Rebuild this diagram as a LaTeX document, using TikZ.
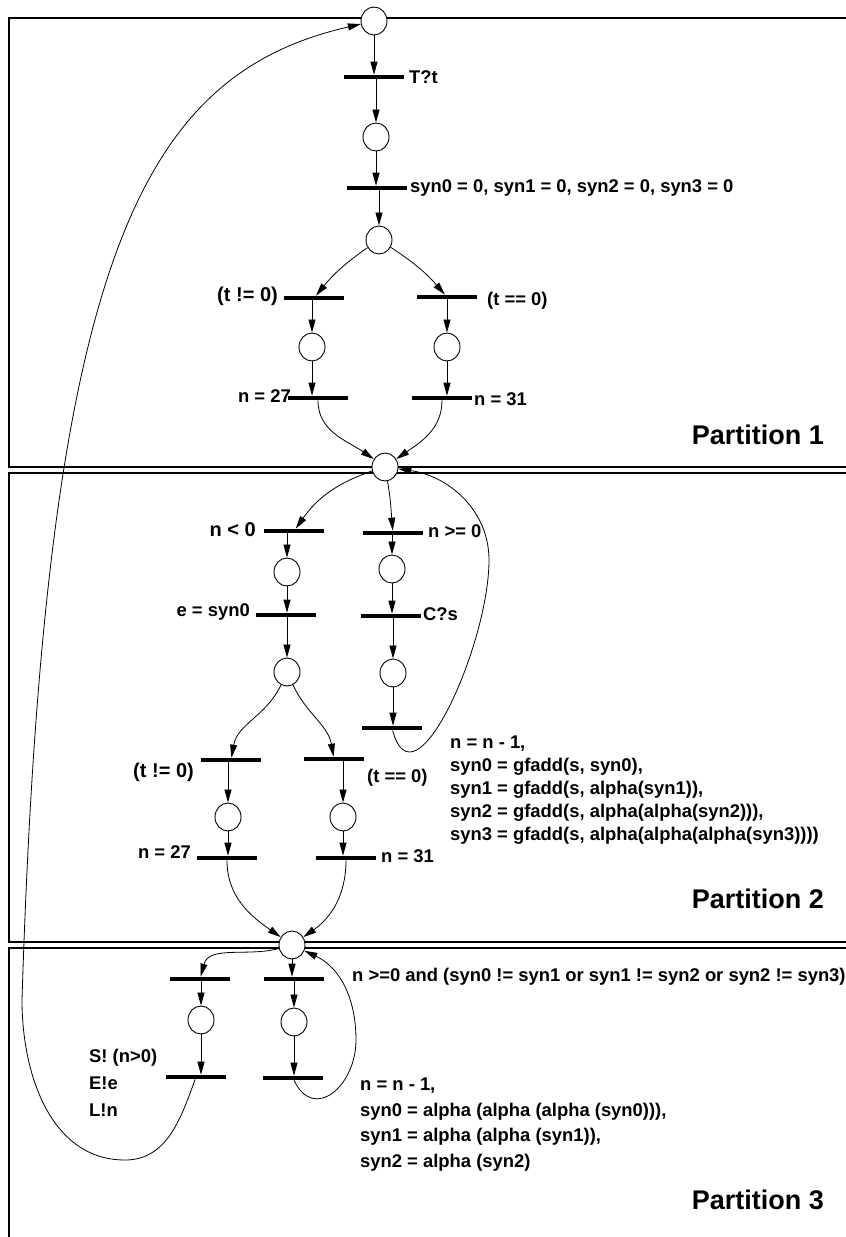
\documentclass[tikz,border=0pt]{standalone}
\usepackage{fontspec}
\setmainfont{Liberation Sans}
\usetikzlibrary{arrows.meta, shapes.geometric}
\tikzset{
  place/.style={ellipse, draw, fill=white, line width=0.9pt,
                minimum width=26pt, minimum height=28pt, inner sep=0pt},
  trans/.style={rectangle, fill=black, minimum width=60pt,
                minimum height=4.2pt, inner sep=0pt},
  arc/.style={-{Triangle[length=13pt,width=7pt]}, line width=0.8pt},
  partbox/.style={draw, line width=1.2pt},
  lbl/.style={font=\fontsize{18.4}{23}\selectfont\bfseries, inner sep=0pt},
  biglbl/.style={font=\fontsize{20}{24}\selectfont\bfseries, inner sep=0pt},
  parttitle/.style={font=\fontsize{27}{32}\selectfont\bfseries,
                    anchor=east, inner sep=0pt}
}

\begin{document}
\begin{tikzpicture}[x=1pt,y=1pt]
\useasboundingbox (0,0) rectangle (846,-1237);
\clip (0,0) rectangle (846,-1237);

% ── Partition frames ──────────────────────────────────────────────────────────
\foreach \ytop/\ybot in {18/467, 473/942, 948/1260}
  \draw[partbox] (9,-\ytop) rectangle (880,-\ybot);

% ── Partition 1 ───────────────────────────────────────────────────────────────
\node[place] (p0) at (374,-21) {};
\node[trans] (t1) at (374,-77) {};
\node[place] (p1) at (376,-137) {};
\node[trans] (t2) at (377,-188) {};
\node[place] (p2) at (379,-240) {};
\node[trans] (t3) at (314,-298) {};
\node[trans] (t4) at (447,-297) {};
\node[place] (p3) at (312,-347) {};
\node[place] (p4) at (447,-347) {};
\node[trans] (t5) at (318,-398) {};
\node[trans] (t6) at (442,-398) {};
\node[place] (p5) at (385,-467) {};

\node[lbl, anchor=west] (lT1) at (409,-77) {T?t};
\node[lbl, anchor=west] (lT2) at (410,-188) {syn0 = 0, syn1 = 0, syn2 = 0, syn3 = 0};
\node[biglbl, anchor=east] (lT3) at (278,-296) {(t != 0)};
\node[lbl, anchor=west] (lT4) at (487,-301) {(t == 0)};
\node[lbl, anchor=east] (lT5) at (291,-396) {n = 27};
\node[lbl, anchor=west] (lT6) at (474,-399) {n = 31};
\node[parttitle] (part1) at (824,-435) {Partition 1};

\draw[arc] (p0) -- (p0 |- t1.north);
\draw[arc] (t1.south -| p1) -- (p1);
\draw[arc] (p1) -- (p1 |- t2.north);
\draw[arc] (t2.south -| p2) -- (p2);
\draw[arc] (p2) to[bend right=8] (t3);
\draw[arc] (p2) to[bend left=8] (t4);
\draw[arc] (t3.south -| p3) -- (p3);
\draw[arc] (t4.south -| p4) -- (p4);
\draw[arc] (p3) -- (p3 |- t5.north);
\draw[arc] (p4) -- (p4 |- t6.north);
\draw[arc] (t5) to[out=-90,in=145] (p5);
\draw[arc] (t6) to[out=-90,in=35] (p5);

% ── Partition 2 ───────────────────────────────────────────────────────────────
\node[trans] (t7) at (294,-531) {};
\node[trans] (t8) at (393,-533) {};
\node[place] (p6) at (287,-572) {};
\node[place] (p7) at (392,-569) {};
\node[trans] (t9) at (286,-615) {};
\node[trans] (t10) at (391,-616) {};
\node[place] (p8) at (287,-672) {};
\node[place] (p9) at (393,-673) {};
\node[trans] (t11) at (392,-728) {};
\node[trans] (t12) at (231,-760) {};
\node[trans] (t13) at (334,-759) {};
\node[place] (p10) at (228,-817) {};
\node[place] (p11) at (343,-817) {};
\node[trans] (t14) at (227,-858) {};
\node[trans] (t15) at (346,-858) {};
\node[place] (p12) at (292,-945) {};

\node[biglbl, anchor=east] (lT7) at (256,-530) {n < 0};
\node[lbl, anchor=west] (lT8) at (428,-531) {n >= 0};
\node[lbl, anchor=east] (lT9) at (250,-612) {e = syn0};
\node[lbl, anchor=west] (lT10) at (423,-614) {C?s};
\node[lbl, anchor=north west, align=left] (lT11) at (450,-736)
     {n = n - 1,\\
      syn0 = gfadd(s, syn0),\\
      syn1 = gfadd(s, alpha(syn1)),\\
      syn2 = gfadd(s, alpha(alpha(syn2))),\\
      syn3 = gfadd(s, alpha(alpha(alpha(syn3))))};
\node[biglbl, anchor=east] (lT12) at (194,-772) {(t != 0)};
\node[lbl, anchor=west] (lT13) at (367,-778) {(t == 0)};
\node[lbl, anchor=east] (lT14) at (191,-852) {n = 27};
\node[lbl, anchor=west] (lT15) at (381,-856) {n = 31};
\node[parttitle] (part2) at (824,-899) {Partition 2};

\draw[arc] (p5) to[bend right=18] (t7);
\draw[arc] (p5) to[out=-80,in=95] (t8);
\draw[arc] (t7.south -| p6) -- (p6);
\draw[arc] (t8.south -| p7) -- (p7);
\draw[arc] (p6) -- (p6 |- t9.north);
\draw[arc] (p7) -- (p7 |- t10.north);
\draw[arc] (t9.south -| p8) -- (p8);
\draw[arc] (t10.south -| p9) -- (p9);
\draw[arc] (p9) -- (p9 |- t11.north);
\draw[arc] (p8) to[out=-115,in=80] (t12);
\draw[arc] (p8) to[out=-65,in=100] (t13);
\draw[arc] (t12.south -| p10) -- (p10);
\draw[arc] (t13.south -| p11) -- (p11);
\draw[arc] (p10) -- (p10 |- t14.north);
\draw[arc] (p11) -- (p11 |- t15.north);
\draw[arc] (t14) to[out=-90,in=145] (p12);
\draw[arc] (t15) to[out=-90,in=35] (p12);

% loop back to p5
\coordinate (lr1) at (489,-560);
\draw[arc] (t11) to[out=-75,in=-90,looseness=1.1] (lr1)
                 to[out=90,in=-8] (p5);

% ── Partition 3 ───────────────────────────────────────────────────────────────
\node[trans] (t16) at (200,-979) {};
\node[trans] (t17) at (294,-979) {};
\node[place] (p13) at (201,-1020) {};
\node[place] (p14) at (294,-1022) {};
\node[trans] (t18) at (196,-1077) {};
\node[trans] (t19) at (293,-1078) {};

\node[lbl, anchor=west] (lT16) at (352,-977)
     {n >=0 and (syn0 != syn1 or syn1 != syn2 or syn2 != syn3)};
\node[lbl, anchor=north west, align=left,
      font=\fontsize{18.4}{27}\selectfont\bfseries] (lT18) at (89,-1049)
     {S! (n>0)\\E!e\\L!n};
\node[lbl, anchor=north west, align=left,
      font=\fontsize{18.4}{25.5}\selectfont\bfseries] (lT19) at (360,-1078)
     {n = n - 1,\\
      syn0 = alpha (alpha (alpha (syn0))),\\
      syn1 = alpha (alpha (syn1)),\\
      syn2 = alpha (syn2)};
\node[parttitle] (part3) at (824,-1200) {Partition 3};

\draw[arc] (p12) to[out=195,in=75] (t16);
\draw[arc] (p12) -- (p12 |- t17.north);
\draw[arc] (t16.south -| p13) -- (p13);
\draw[arc] (t17.south -| p14) -- (p14);
\draw[arc] (p13) -- (p13 |- t18.north);
\draw[arc] (p14) -- (p14 |- t19.north);

% loop back to p12
\coordinate (lr2) at (356,-1040);
\draw[arc] (t19) to[out=-65,in=-90,looseness=1.6] (lr2)
                 to[out=90,in=-25] (p12);

% long return to p0
\coordinate (bl1) at (125,-1160);
\coordinate (bl2) at (22,-1000);
\draw[arc] (t18) to[out=-110,in=0] (bl1) to[out=180,in=-90] (bl2)
           .. controls (45,-260) and (140,-75) .. (p0);

\end{tikzpicture}
\end{document}
